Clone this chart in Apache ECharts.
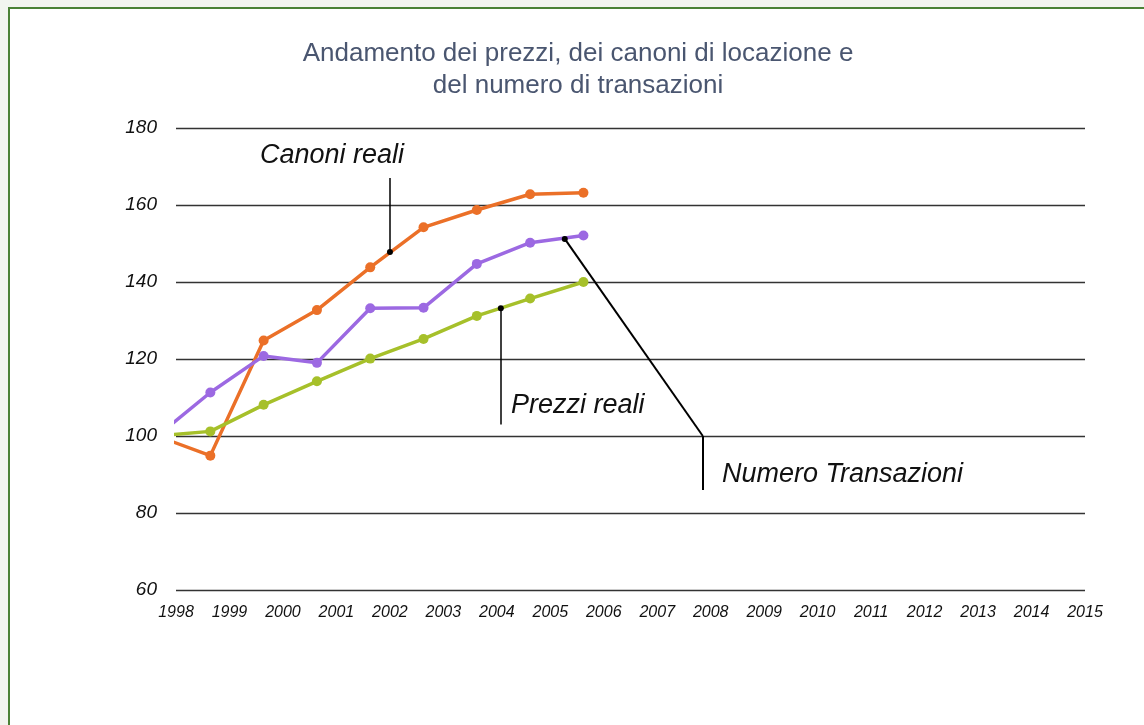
<!DOCTYPE html>
<html>
<head>
<meta charset="utf-8">
<script src="https://cdn.jsdelivr.net/npm/echarts@6/dist/echarts.min.js"></script>
<style>
  html, body { margin: 0; padding: 0; background: #f2f5ef; overflow: hidden; }
  #frame {
    position: absolute; left: 8px; top: 7px; width: 1200px; height: 800px;
    border: 2px solid #4b8236; background: #fff;
  }
  #chart { position: absolute; left: 0; top: 0; width: 1144px; height: 725px; }
</style>
</head>
<body>
<div id="frame"></div>
<div id="chart"></div>
<script>
// anni dei dati e etichette dell'asse
const years = [1998, 1999, 2000, 2001, 2002, 2003, 2004, 2005, 2006]
const yearLabels = ['1998', '1999', '2000', '2001', '2002', '2003', '2004', '2005', '2006',
  '2007', '2008', '2009', '2010', '2011', '2012', '2013', '2014', '2015']

// indici (1998 = 100)
const canoni = [100, 94.9, 124.8, 132.7, 143.8, 154.2, 158.7, 162.8, 163.2]
const transazioni = [100, 111.3, 120.8, 119.0, 133.2, 133.3, 144.7, 150.2, 152.1]
const prezzi = [100, 101.2, 108.1, 114.2, 120.1, 125.2, 131.2, 135.7, 140.0]

const chart = echarts.init(document.getElementById('chart'))

function pairs(vals) {
  return years.map((y, i) => [y, vals[i]])
}

const leader = { color: '#000', width: 1.5, type: 'solid' }
const noteFont = 'italic 27px "Liberation Sans"'

function lineSeries(name, color, vals, extra) {
  return Object.assign({
    name: name,
    type: 'line',
    xAxisIndex: 0,
    data: pairs(vals),
    clip: true,
    symbol: 'circle',
    symbolSize: 10,
    lineStyle: { color: color, width: 3.5 },
    itemStyle: { color: color },
    z: 3
  }, extra)
}

const option = {
  animation: false,
  title: {
    text: 'Andamento dei prezzi, dei canoni di locazione e\ndel numero di transazioni',
    left: 573,
    top: 33,
    textAlign: 'center',
    textStyle: {
      fontFamily: 'Liberation Sans',
      fontSize: 26,
      fontWeight: 'normal',
      color: '#4a5670',
      lineHeight: 32,
      align: 'center'
    }
  },
  grid: { left: 176, right: 59, top: 128, bottom: 135 },
  xAxis: [
    {
      type: 'value',
      min: 1998.356,
      max: 2015.41,
      show: false
    },
    {
      type: 'category',
      data: yearLabels,
      boundaryGap: false,
      position: 'bottom',
      axisLine: { show: false },
      axisTick: { show: false },
      axisLabel: {
        margin: 15,
        fontFamily: 'Liberation Sans',
        fontStyle: 'italic',
        fontSize: 16,
        color: '#111'
      }
    }
  ],
  yAxis: {
    type: 'value',
    min: 60,
    max: 180,
    interval: 20,
    axisLine: { show: false },
    axisTick: { show: false },
    splitLine: { lineStyle: { color: '#333', width: 1.3 } },
    axisLabel: {
      margin: 19,
      fontFamily: 'Liberation Sans',
      fontStyle: 'italic',
      fontSize: 19,
      color: '#111'
    }
  },
  graphic: [
    {
      type: 'text', left: 260, top: 142,
      style: { text: 'Canoni reali', font: noteFont, fill: '#111' }
    },
    {
      type: 'text', left: 511, top: 392,
      style: { text: 'Prezzi reali', font: noteFont, fill: '#111' }
    },
    {
      type: 'text', left: 722, top: 461,
      style: { text: 'Numero Transazioni', font: noteFont, fill: '#111' }
    }
  ],
  series: [
    lineSeries('Canoni reali', '#eb7028', canoni, {
      markLine: {
        silent: true, symbol: 'none', label: { show: false }, lineStyle: leader,
        data: [[{ coord: [2002.37, 147.8] }, { coord: [2002.37, 167] }]]
      },
      markPoint: {
        silent: true, symbol: 'circle', symbolSize: 6, itemStyle: { color: '#000' },
        label: { show: false },
        data: [{ coord: [2002.37, 147.8] }]
      }
    }),
    lineSeries('Transazioni', '#9c69e2', transazioni, {
      markLine: {
        silent: true, symbol: 'none', label: { show: false }, lineStyle: Object.assign({}, leader, { width: 2 }),
        data: [
          [{ coord: [2005.65, 151.2] }, { coord: [2008.24, 100] }],
          [{ coord: [2008.24, 100] }, { coord: [2008.24, 86] }]
        ]
      },
      markPoint: {
        silent: true, symbol: 'circle', symbolSize: 6, itemStyle: { color: '#000' },
        label: { show: false },
        data: [{ coord: [2005.65, 151.2] }]
      }
    }),
    lineSeries('Prezzi reali', '#a6c02a', prezzi, {
      markLine: {
        silent: true, symbol: 'none', label: { show: false }, lineStyle: leader,
        data: [[{ coord: [2004.45, 133.2] }, { coord: [2004.45, 103] }]]
      },
      markPoint: {
        silent: true, symbol: 'circle', symbolSize: 6, itemStyle: { color: '#000' },
        label: { show: false },
        data: [{ coord: [2004.45, 133.2] }]
      }
    })
  ]
}

chart.setOption(option)
</script>
</body>
</html>
